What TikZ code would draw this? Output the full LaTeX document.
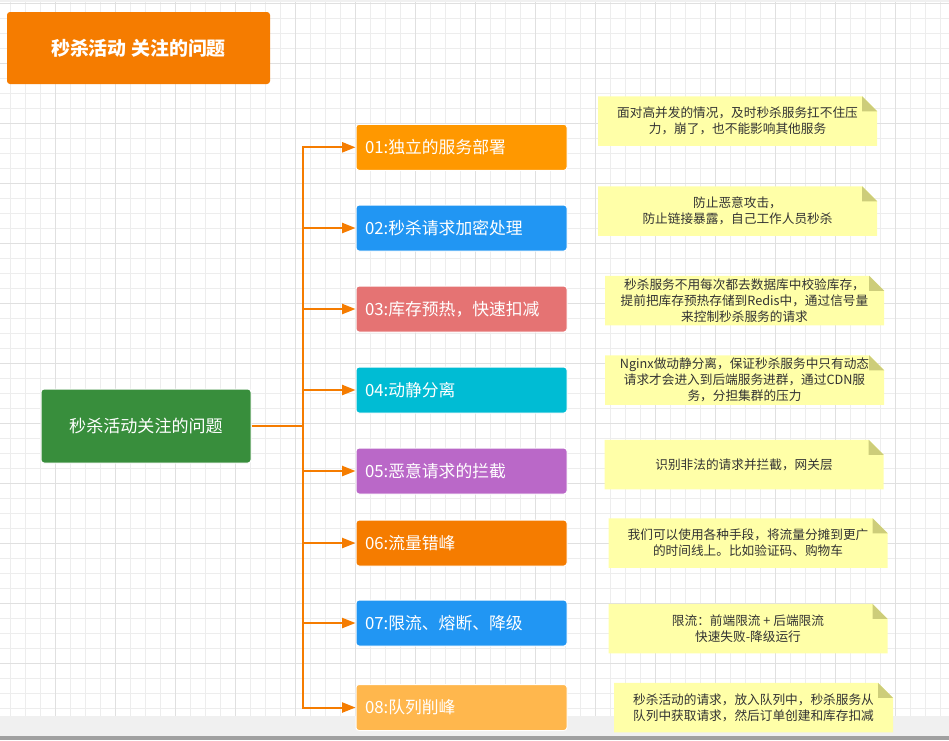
\documentclass[tikz,border=0pt]{standalone}
\usepackage{fontspec}
\newfontfamily\cjk{Noto Sans CJK SC}
\usetikzlibrary{arrows.meta}
\definecolor{gridminor}{RGB}{237,237,237}
\definecolor{gridmajor}{RGB}{224,224,224}
\definecolor{stripgrey}{RGB}{240,240,240}
\definecolor{stripdark}{RGB}{160,160,160}
\definecolor{titleorange}{HTML}{F57C00}
\definecolor{rootgreen}{HTML}{388E3C}
\definecolor{linkorange}{HTML}{F57C00}
\definecolor{cA}{HTML}{FF9800}
\definecolor{cB}{HTML}{2196F3}
\definecolor{cC}{HTML}{E57373}
\definecolor{cD}{HTML}{00BCD4}
\definecolor{cE}{HTML}{BA68C8}
\definecolor{cF}{HTML}{F57C00}
\definecolor{cH}{HTML}{FFB74D}
\definecolor{notefill}{RGB}{255,255,168}
\definecolor{notefold}{RGB}{205,205,122}
\definecolor{notetext}{RGB}{51,51,51}
\begin{document}
\begin{tikzpicture}[x=0.75pt,y=-0.75pt,
  titlebox/.style={fill=titleorange,rounded corners=2.25pt,minimum width=197.25pt,minimum height=54pt,
    text=white,font={\cjk\bfseries\fontsize{14.2pt}{17pt}\selectfont},inner sep=0pt},
  rootbox/.style={fill=rootgreen,draw=white,line width=0.75pt,rounded corners=2.25pt,minimum width=157.5pt,minimum height=55.5pt,
    text=white,font={\cjk\fontsize{12.8pt}{15pt}\selectfont},inner sep=0pt},
  itembox/.style={fill=#1,draw=white,line width=0.75pt,rounded corners=2.25pt,minimum width=158.25pt,minimum height=34.5pt,
    text=white,font={\cjk\fontsize{12.6pt}{15pt}\selectfont},inner xsep=6.75pt,inner ysep=0pt,
    text width=144.75pt,align=left},
  note/.style={minimum width=209.25pt,minimum height=37.125pt,inner sep=0pt,align=center,text=notetext,
    font={\cjk\fontsize{9.5pt}{12pt}\selectfont},
    path picture={
      \fill[notefill] (path picture bounding box.north west)
        -- ([xshift=-11.25pt]path picture bounding box.north east)
        -- ([yshift=-11.25pt]path picture bounding box.north east)
        -- (path picture bounding box.south east)
        -- (path picture bounding box.south west) -- cycle;
      \fill[notefold] ([xshift=-11.25pt]path picture bounding box.north east)
        -- ([yshift=-11.25pt]path picture bounding box.north east)
        -- ([xshift=-11.25pt,yshift=-11.25pt]path picture bounding box.north east) -- cycle;
    }},
  conn/.style={draw=linkorange,line width=1.5pt,-{Triangle[length=10pt,width=7.5pt]}},
  trunkline/.style={draw=linkorange,line width=1.5pt}
]
\useasboundingbox (0,0) rectangle (949,740);
\fill[white] (0,0) rectangle (949,740);
% grid
\foreach \gx in {10.7,25.7,...,949} \draw[gridminor,line width=0.75pt] (\gx,0) -- (\gx,716);
\foreach \gy in {3.3,18.3,...,716} \draw[gridminor,line width=0.75pt] (0,\gy) -- (949,\gy);
\foreach \gx in {55.7,115.7,...,949} \draw[gridmajor,line width=0.75pt] (\gx,0) -- (\gx,716);
\foreach \gy in {3.3,63.3,...,716} \draw[gridmajor,line width=0.75pt] (0,\gy) -- (949,\gy);
\fill[stripgrey] (0,0) rectangle (949,2);
% bottom strip
\fill[stripgrey] (0,716) rectangle (949,736);
\fill[stripdark] (0,736) rectangle (949,740);

% title
\node[titlebox] (title) at (138.5,48) {秒杀活动 关注的问题};

% root
\node[rootbox] (root) at (146,426) {秒杀活动关注的问题};

% items
\node[itembox=cA] (i1) at (461.5,147.3) {01:独立的服务部署};
\node[itembox=cB] (i2) at (461.5,228) {02:秒杀请求加密处理};
\node[itembox=cC] (i3) at (461.5,309) {03:库存预热，快速扣减};
\node[itembox=cD] (i4) at (461.5,390) {04:动静分离};
\node[itembox=cE] (i5) at (461.5,471) {05:恶意请求的拦截};
\node[itembox=cF] (i6) at (461.5,543) {06:流量错峰};
\node[itembox=cB] (i7) at (461.5,623) {07:限流、熔断、降级};
\node[itembox=cH] (i8) at (461.5,707.5) {08:队列削峰};

% connectors
\coordinate (trunk) at (303,426);
\draw[trunkline] (root.east) -- (trunk);
\foreach \k in {1,...,8} \draw[conn] (trunk) |- (i\k.west);

% notes
\node[note] (n1) at (737.5,121) {面对高并发的情况，及时秒杀服务扛不住压\\力，崩了，也不能影响其他服务};
\node[note] (n2) at (737.5,211) {防止恶意攻击，\\防止链接暴露，自己工作人员秒杀};
\node[note] (n3) at (744.5,300.5) {秒杀服务不用每次都去数据库中校验库存，\\提前把库存预热存储到Redis中，通过信号量\\来控制秒杀服务的请求};
\node[note] (n4) at (744.5,380) {Nginx做动静分离，保证秒杀服务中只有动态\\请求才会进入到后端服务进群，通过CDN服\\务，分担集群的压力};
\node[note] (n5) at (744,464.5) {识别非法的请求并拦截，网关层};
\node[note] (n6) at (748,543) {我们可以使用各种手段，将流量分摊到更广\\的时间线上。比如验证码、购物车};
\node[note] (n7) at (748,628.5) {限流：前端限流 + 后端限流\\快速失败-降级运行};
\node[note] (n8) at (753.5,707.5) {秒杀活动的请求，放入队列中，秒杀服务从\\队列中获取请求，然后订单创建和库存扣减};
\end{tikzpicture}
\end{document}
